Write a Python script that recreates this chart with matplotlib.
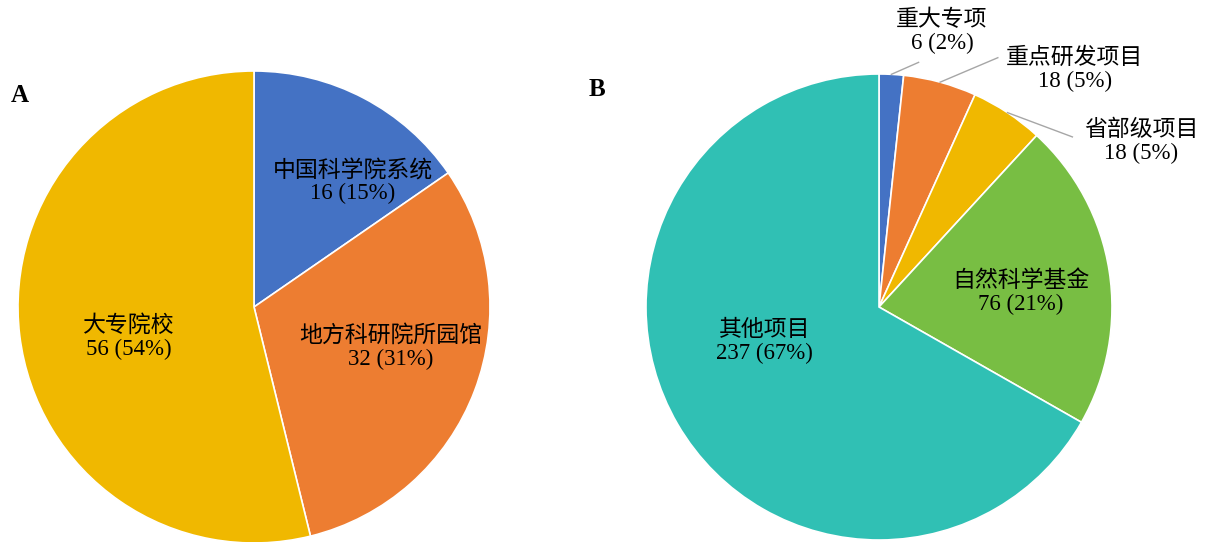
import numpy as np
import matplotlib
matplotlib.use('Agg')
import matplotlib.pyplot as plt

FONT = ['Liberation Serif', 'Noto Sans CJK SC']
FS = 16.5

# Panel A data
a_labels = ['中国科学院系统', '地方科研院所园馆', '大专院校']
a_values = [16, 32, 56]
a_colors = ['#4472C4', '#ED7D31', '#F0B800']

# Panel B data
b_labels = ['重大专项', '重点研发项目', '省部级项目', '自然科学基金', '其他项目']
b_values = [6, 18, 18, 76, 237]
b_colors = ['#4472C4', '#ED7D31', '#F0B800', '#78BE43', '#30C0B4']

W, H = 1207, 542
fig = plt.figure(figsize=(W / 100, H / 100), dpi=100)
ax = fig.add_axes([0, 0, 1, 1])

def label_text(name, v, total):
    return f'{name}\n{v} ({round(v / total * 100)}%)'

# ---- A ----
ca, ra = (254, H - 307), 236
wa, _ = ax.pie(a_values, colors=a_colors, startangle=90, counterclock=False,
               center=ca, radius=ra, wedgeprops=dict(edgecolor='white', linewidth=1.2))

# ---- B ----
cb, rb = (879, H - 307), 233
wb, _ = ax.pie(b_values, colors=b_colors, startangle=90, counterclock=False,
               center=cb, radius=rb, wedgeprops=dict(edgecolor='white', linewidth=1.2))

# pie() resets the view, so fix the pixel frame afterwards
ax.set_xlim(0, W)
ax.set_ylim(0, H)
ax.set_aspect('equal')
ax.axis('off')

a_pos = [(0.42, 0.53), (0.58, -0.17), (-0.53, -0.13)]
ta = sum(a_values)
for name, v, (px, py) in zip(a_labels, a_values, a_pos):
    ax.text(ca[0] + px * ra, ca[1] + py * ra, label_text(name, v, ta),
            ha='center', va='center', fontsize=FS, family=FONT, linespacing=1.12)

tb = sum(b_values)
# inside labels for the two big slices
b_inside = {3: (0.61, 0.06), 4: (-0.49, -0.15)}
for i, (px, py) in b_inside.items():
    ax.text(cb[0] + px * rb, cb[1] + py * rb, label_text(b_labels[i], b_values[i], tb),
            ha='center', va='center', fontsize=FS, family=FONT, linespacing=1.12)
# outside labels with leader lines: (line end, text centre) in radius units
b_outside = {0: ((0.17, 1.05), (0.27, 1.18)),
             1: ((0.51, 1.07), (0.84, 1.02)),
             2: ((0.83, 0.73), (1.125, 0.71))}
for i, ((ex, ey), (tx, ty)) in b_outside.items():
    w = wb[i]
    mid = np.deg2rad((w.theta1 + w.theta2) / 2)
    sx, sy = cb[0] + rb * np.cos(mid), cb[1] + rb * np.sin(mid)
    ax.plot([sx, cb[0] + ex * rb], [sy, cb[1] + ey * rb], color='#A6A6A6', lw=1)
    ax.text(cb[0] + tx * rb, cb[1] + ty * rb, label_text(b_labels[i], b_values[i], tb),
            ha='center', va='center', fontsize=FS, family=FONT, linespacing=1.12)

ax.text(20, H - 95, 'A', fontsize=18, fontweight='bold', family=FONT, ha='center', va='center')
ax.text(597, H - 90, 'B', fontsize=18, fontweight='bold', family=FONT, ha='center', va='center')

fig.savefig('out.png', dpi=100)
